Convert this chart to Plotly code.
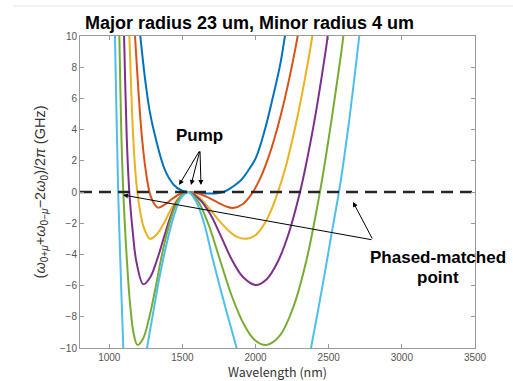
import plotly.graph_objects as go

# ---- data ----
blue_x = [1204, 1212, 1244, 1276, 1313, 1381, 1442, 1497, 1540, 1620, 1700, 1780, 1846, 1900, 1948, 2003, 2064, 2119, 2167, 2201, 2210]
blue_y = [10.6, 10, 7.3, 5.2, 3.6, 1.4, 0.45, 0.08, 0, -0.06, -0.1, 0.0, 0.35, 0.75, 1.35, 2.2, 4.0, 6.1, 8.1, 10, 10.6]

orange_x = [1170, 1176, 1201, 1225, 1251, 1275, 1299, 1333, 1381, 1429, 1483, 1540, 1607, 1675, 1743, 1798, 1846, 1914, 1982, 2030, 2078, 2126, 2174, 2222, 2288, 2298]
orange_y = [10.8, 10, 6.26, 3.35, 1.26, 0, -0.62, -1.0, -0.8, -0.45, -0.13, 0, -0.1, -0.35, -0.68, -0.92, -1.02, -0.77, 0, 0.84, 1.95, 3.33, 4.98, 6.9, 10, 10.6]

yellow_x = [1132, 1137, 1164, 1192, 1235, 1278, 1326, 1374, 1422, 1470, 1540, 1607, 1675, 1743, 1812, 1873, 1939, 1996, 2044, 2099, 2153, 2201, 2247, 2294, 2341, 2388, 2396]
yellow_y = [10.7, 10, 3.45, 0, -2.25, -3.0, -2.7, -2.0, -1.1, -0.45, 0, -0.3, -0.95, -1.75, -2.45, -2.88, -3.0, -2.79, -2.28, -1.34, 0, 1.44, 3.16, 5.16, 7.44, 10, 10.7]

purple_x = [1097, 1101, 1119, 1137, 1161, 1185, 1233, 1278, 1326, 1374, 1422, 1470, 1540, 1620, 1689, 1757, 1839, 1914, 2000, 2076, 2152, 2228, 2304, 2351, 2399, 2446, 2493, 2499]
purple_y = [10.8, 10, 3.6, 0, -2.59, -4.44, -5.92, -5.5, -4.36, -2.9, -1.5, -0.5, 0, -0.5, -1.4, -2.7, -4.36, -5.45, -5.96, -5.59, -4.47, -2.61, 0, 2.03, 4.38, 7.03, 10, 10.8]

green_x = [1066, 1069, 1082, 1096, 1120, 1144, 1169, 1193, 1231, 1272, 1313, 1354, 1395, 1443, 1490, 1540, 1607, 1675, 1757, 1839, 1921, 1996, 2076, 2167, 2259, 2350, 2440, 2480, 2520, 2560, 2600, 2605]
green_y = [10.8, 10, 3.9, 0, -4.29, -7.35, -9.19, -9.8, -9.4, -8.1, -6.3, -4.3, -2.6, -1.1, -0.25, 0, -0.6, -2.0, -4.36, -6.7, -8.5, -9.5, -9.8, -9.19, -7.35, -4.29, 0, 2.24, 4.65, 7.24, 10, 10.8]

cyan_x = [1032, 1039, 1061, 1077, 1096, 1101, 1140, 1200, 1238, 1258, 1299, 1347, 1395, 1443, 1490, 1540, 1593, 1648, 1709, 1791, 1871, 1904, 2000, 2250, 2358, 2379, 2427, 2475, 2522, 2570, 2604, 2639, 2673, 2709, 2716]
cyan_y = [13, 10, 0, -4.8, -10, -11.3, -18, -18, -11.1, -10, -7.8, -5.3, -3.2, -1.5, -0.4, 0, -0.6, -2.0, -4.36, -7.3, -10, -11.1, -16, -16, -11.0, -10, -7.6, -5.1, -2.55, 0, 2.1, 4.5, 7.1, 10, 10.7]

series = [
    (blue_x, blue_y, "#0072BD"),
    (orange_x, orange_y, "#D95319"),
    (yellow_x, yellow_y, "#EDB120"),
    (purple_x, purple_y, "#7E2F8E"),
    (green_x, green_y, "#77AC30"),
    (cyan_x, cyan_y, "#4DBEEE"),
]

x_ticks = [1000, 1500, 2000, 2500, 3000, 3500]
y_ticks = [-10, -8, -6, -4, -2, 0, 2, 4, 6, 8, 10]
dash_x = [800, 3500]
dash_y = [0, 0]

title_text = "Major radius 23 um, Minor radius 4 um"
x_title = "Wavelength (nm)"
y_title = "(<i>ω</i><sub>0+<i>μ</i></sub>+<i>ω</i><sub>0−<i>μ</i></sub>−2<i>ω</i><sub>0</sub>)/2<i>π</i> (GHz)"

fig = go.Figure()
for xs, ys, col in series:
    fig.add_trace(go.Scatter(x=xs, y=ys, mode="lines", line=dict(color=col, width=2, shape="spline", smoothing=1.0),
                             showlegend=False, hoverinfo="skip"))

fig.add_trace(go.Scatter(x=dash_x, y=dash_y, mode="lines", line=dict(color="#262626", width=2.5, dash="12px,7px"),
                         showlegend=False, hoverinfo="skip"))

axis_common = dict(showgrid=False, zeroline=False, showline=True, linecolor="#9a9a9a", linewidth=1,
                   mirror="ticks", ticks="inside", ticklen=4, tickcolor="#9a9a9a", automargin=False,
                   tickfont=dict(family="Liberation Sans, Arial", size=10, color="#555555"))

fig.update_layout(
    width=513, height=381,
    margin=dict(l=80, r=38, t=36, b=33),
    paper_bgcolor="white", plot_bgcolor="white",
    xaxis=dict(range=[800, 3500], tickvals=x_ticks,
               title=dict(text=x_title, font=dict(family="Noto Sans CJK JP", size=12.5, color="#333333"), standoff=4),
               **axis_common),
    yaxis=dict(range=[-10, 10], tickvals=y_ticks,
               title=dict(text=y_title, font=dict(family="Liberation Sans, Arial", size=14.5, color="#333333"), standoff=10),
               **axis_common),
)

# title
fig.add_annotation(text="<b>" + title_text + "</b>", xref="paper", yref="paper", x=(249 - 80) / 395, y=1.0,
                   yshift=13, showarrow=False, xanchor="center", yanchor="middle",
                   font=dict(family="Liberation Sans, Arial", size=18, color="black"))

# Pump label and arrows
fig.add_annotation(text="<b>Pump</b>", x=1620, y=3.65, showarrow=False, xanchor="center", yanchor="middle",
                   font=dict(family="Liberation Sans, Arial", size=17, color="black"))
for hx, ax in [(1477, 21), (1559, 9), (1627, -1)]:
    fig.add_annotation(x=hx, y=0.45, ax=ax, ay=-35, text="", showarrow=True, arrowhead=2, arrowsize=1,
                       arrowwidth=1, arrowcolor="black")

# Phase-matched label and arrows
fig.add_annotation(text="<b>Phased-matched</b>", x=3247, y=-4.17, showarrow=False, xanchor="center",
                   yanchor="middle", font=dict(family="Liberation Sans, Arial", size=17, color="black"))
fig.add_annotation(text="<b>point</b>", x=3247, y=-5.45, showarrow=False, xanchor="center",
                   yanchor="middle", font=dict(family="Liberation Sans, Arial", size=17, color="black"))
fig.add_annotation(x=2666, y=-0.64, ax=20, ay=38, text="", showarrow=True, arrowhead=2, arrowsize=1,
                   arrowwidth=1, arrowcolor="black")
fig.add_annotation(x=1094, y=-0.19, ax=250, ay=45, text="", showarrow=True, arrowhead=2, arrowsize=1,
                   arrowwidth=1, arrowcolor="black")

# faint top rule
fig.add_shape(type="line", xref="paper", yref="paper", x0=(13 - 80) / 395, x1=(513 - 80) / 395,
              y0=(348 - 6) / 312, y1=(348 - 6) / 312, line=dict(color="#e6e6e6", width=1))

fig.write_html("out.html")
